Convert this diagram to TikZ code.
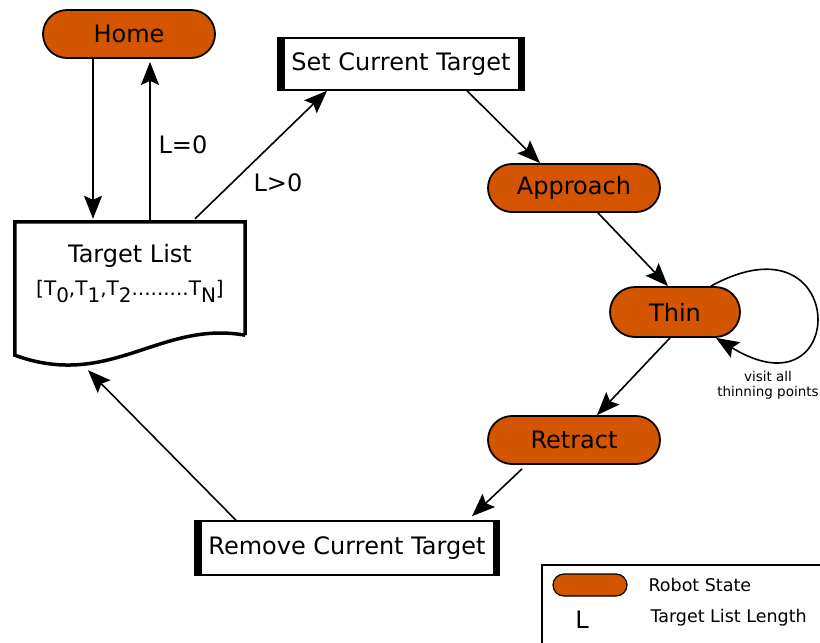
\documentclass[tikz,border=0pt]{standalone}
\usepackage{fontspec}
\setmainfont{DejaVu Sans}
\usetikzlibrary{arrows.meta}
\definecolor{stateorange}{RGB}{212,85,0}
\newcommand{\lowered}[1]{\raisebox{-7pt}{#1}}

\begin{document}
\begin{tikzpicture}[x=1pt,y=-1pt,
		state/.style={draw,line width=1.8pt,fill=stateorange,rounded corners=24pt,minimum width=172pt,minimum height=48pt,font=\fontsize{24}{28}\selectfont},
		process/.style={draw,line width=1.5pt,fill=white,minimum height=52pt,font=\fontsize{24}{28}\selectfont,
			path picture={\fill[black] (path picture bounding box.north west) rectangle ([xshift=7pt]path picture bounding box.south west);
				\fill[black] (path picture bounding box.north east) rectangle ([xshift=-7pt]path picture bounding box.south east);}},
		arr/.style={-{Stealth[length=23pt,width=18pt,inset=4pt]},line width=1.6pt},
		big/.style={font=\fontsize{24}{28}\selectfont}]
		\useasboundingbox (0,0) rectangle (820,643);
		% Target list cycle
		\node[state] (Home) at (129,34) {Home};
		\node[process,minimum width=247pt] (SetTarget) at (401,64) {Set Current Target};
		\node[state] (Approach) at (574,188) {Approach};
		\node[state,minimum width=130pt,minimum height=50pt,rounded corners=25pt] (Thin) at (675,312) {Thin};
		\node[state] (Retract) at (574,440) {Retract};
		\node[process,minimum width=305pt,minimum height=54pt] (Remove) at (347,548) {Remove Current Target};

		\node[minimum width=230pt,minimum height=113pt] (List) at (130,278.5) {};
		\draw[line width=3.5pt,line join=miter] (List.south east) -- (List.north east) -- (List.north west) -- ([yshift=-20pt]List.south west)
			.. controls (110,390) and (160,320) .. (List.south east);
		\node[big] (ListTitle) at (130,256) {Target List};
		\node[font=\fontsize{20}{22}\selectfont] (ListItems) at (130,292) {[T\lowered{0},T\lowered{1},T\lowered{2}.........T\lowered{N}]};

		\draw[arr] ([xshift=-36pt]Home.south) to ([xshift=-37pt,yshift=3pt]List.north);
		\draw[arr] ([xshift=20pt]List.north) to ([xshift=21pt,yshift=-3pt]Home.south);
		\node[big] (LZero) at (183,145) {L=0};
		\draw[arr] ([xshift=65pt,yshift=3pt]List.north) to ([xshift=-74pt]SetTarget.south);
		\node[big] (LMore) at (278,183) {L>0};
		\draw[arr] ([xshift=66pt]SetTarget.south) to ([xshift=-34pt]Approach.north);
		\draw[arr] ([xshift=24pt]Approach.south) to ([xshift=-7pt]Thin.north);
		\draw[arr] ([xshift=-30pt]Thin.north east) .. controls (850,210) and (850,420) .. ([xshift=-25pt]Thin.south east);
		\node[font=\fontsize{13.5}{15}\selectfont,align=center] (Visit) at (768,385) {visit all\\thinning points};
		\draw[arr] ([xshift=-5pt]Thin.south) to ([xshift=23pt]Retract.north);
		\draw[arr] ([xshift=-52pt,yshift=-4pt]Retract.south) to ([xshift=125pt,yshift=4pt]Remove.north);
		\draw[arr] ([xshift=-111pt]Remove.north) to ([xshift=-42pt,yshift=-35pt]List.south);

		% legend
		\draw[line width=1.5pt] (542,565) rectangle (830,650);
		\node[draw,line width=1.2pt,fill=stateorange,rounded corners=11pt,minimum width=74pt,minimum height=22pt] (LegState) at (590,585) {};
		\node[anchor=west,font=\fontsize{17.5}{20}\selectfont] (LegStateText) at (645,585) {Robot State};
		\node[big] (LegL) at (582,620) {L};
		\node[anchor=west,font=\fontsize{17.5}{20}\selectfont] (LegLText) at (647,618) {Target List Length};
\end{tikzpicture}
\end{document}
